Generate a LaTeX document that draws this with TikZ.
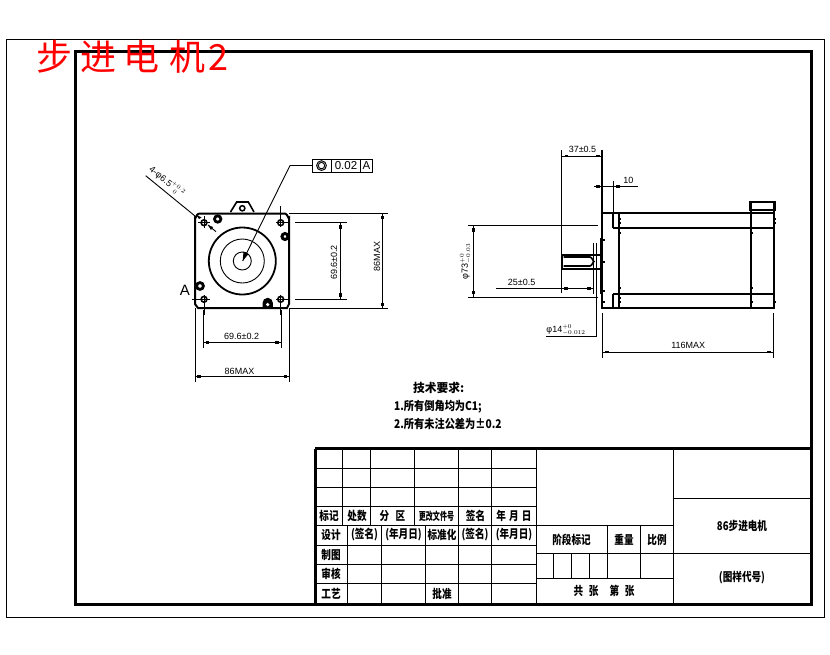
\documentclass[tikz,border=0pt]{standalone}
\usepackage{fontspec}
\setmainfont{Liberation Sans}
\newfontfamily\cjk{Noto Sans CJK SC}
\definecolor{titlered}{RGB}{255,0,0}
\tikzset{
  thinl/.style={line width=0.9pt,black},
  thickl/.style={line width=3pt,black},
  medl/.style={line width=2pt,black},
  dimtext/.style={font=\fontsize{9}{10}\selectfont,inner sep=0pt},
  cjkcell/.style={font=\cjk\bfseries\fontsize{12}{14}\selectfont,inner sep=0pt,xscale=.8},
  cjknote/.style={font=\cjk\bfseries\fontsize{12}{14}\selectfont,inner sep=0pt,xscale=.85,anchor=west},
}
\newcommand{\dm}[2]{\fill (#1-1.6,#2-1.4) rectangle (#1+1.6,#2+1.4);}
\newcommand{\dv}[2]{\fill (#1-1.4,#2-1.6) rectangle (#1+1.4,#2+1.6);}
\newcommand{\holemark}[6]{\draw[thinl] (#3,#2) -- (#4,#2) (#1,#5) -- (#1,#6);
  \draw[line width=1.6pt] (#1,#2) circle (2.9);}
\begin{document}
\begin{tikzpicture}[x=1pt,y=-1pt]
\useasboundingbox (0,0) rectangle (830,654);
\fill[white] (0,0) rectangle (830,654);
% frames
\draw[thinl] (6.5,39.5) rectangle (824,617);
\draw[thickl] (75.5,51.5) rectangle (811,604);
% title
\node[text=titlered,anchor=west,inner sep=0pt,font=\cjk\fontsize{36}{40}\selectfont] (title) at (36.5,57) {步\hspace{8pt}进\hspace{7pt}电\hspace{10pt}机\hspace{3pt}2};

% ---------- front view
\draw[medl] (199,213.5) -- (285,213.5) to[out=0,in=-90] (289,218) -- (289,304) -- (287,308) -- (198,308) -- (195,304) -- (195,218) to[out=-90,in=180] (199,213.5);
\draw[line width=1.6pt] (230.5,212) -- (236.7,202) -- (248.3,202) -- (254,212);
\draw[line width=1.5pt] (242.3,208.3) circle (2.6);
\draw[line width=1.8pt] (242.3,261) circle (33.5);
\draw[thinl] (242.3,261) circle (22);
\draw[thinl] (242.3,261) circle (9);
\holemark{204}{222.7}{198}{210}{216}{228}
\holemark{280.7}{222.7}{276}{289}{206}{227}
\holemark{204}{299.3}{192}{210}{295}{315}
\holemark{280.7}{299.3}{276}{289}{295}{315}
\draw[line width=2.8pt] (217.7,219) circle (3.2);
\draw[line width=3pt] (285,236.5) circle (3);
\draw[line width=2.8pt] (200,286) circle (3.4);
\fill (262.5,308) -- (262.5,303) arc (180:360:5.2) -- (272.9,308) -- cycle;
\fill[white] (267.7,304.5) circle (1.8);
% hole leader
\draw[thinl] (145.7,175.7) -- (195,216);
\draw[thinl] (208,225) -- (216,231.7);
\fill (199,219) -- (196,214.5) -- (201.5,217.5) -- cycle;
\fill (208,225) -- (213,227) -- (211,230) -- cycle;
\node[dimtext,rotate=-38] (holetext) at (166.5,182) {4-φ6.5$^{+0.2}_{\phantom{+}0}$};
% control frame
\draw[thinl] (312.3,159) rectangle (372.3,172.3);
\draw[thinl] (331.7,159) -- (331.7,172.3) (360.7,159) -- (360.7,172.3);
\draw[thinl] (321.5,165.6) circle (4.9) (321.5,165.6) circle (3.2);
\node[inner sep=0pt,font=\fontsize{11.5}{12}\selectfont] (tol) at (346,165.7) {0.02};
\node[inner sep=0pt,font=\fontsize{11.5}{12}\selectfont] (datum) at (366.5,165.7) {A};
\draw[thinl] (312.3,165.5) -- (290,165.5) -- (242.7,261);
\fill (242.7,261) -- (243.5,251.5) -- (248.5,254) -- cycle;
\node[inner sep=0pt,font=\fontsize{15}{16}\selectfont] (A) at (185,290) {A};
% dims right
\draw[thinl] (289,213.5) -- (388,213.5) (289,308.5) -- (388,308.5);
\draw[thinl] (382.5,213.5) -- (382.5,308.5);
\dv{382.5}{217.5}\dv{382.5}{304.5}
\node[dimtext,rotate=90] (d86r) at (377,256.5) {86MAX};
\draw[thinl] (295,222.5) -- (347,222.5) (295,299.5) -- (347,299.5);
\draw[thinl] (340.5,222.5) -- (340.5,299.5);
\dv{340.5}{227}\dv{340.5}{295}
\node[dimtext,rotate=90] (d69r) at (334,262.5) {69.6±0.2};
% dims bottom
\draw[thinl] (203.5,310) -- (203.5,348) (281,310) -- (281,348);
\draw[thinl] (203.5,342.5) -- (281,342.5);
\dm{207.5}{342.5}\dm{277}{342.5}
\node[dimtext] (d69b) at (241.7,336.5) {69.6±0.2};
\draw[thinl] (195,308) -- (195,381.5) (289.5,308) -- (289.5,381.5);
\draw[thinl] (195,376.5) -- (289.5,376.5);
\dm{199}{376.5}\dm{285.5}{376.5}
\node[dimtext] (d86b) at (239.5,371) {86MAX};

% ---------- side view
\draw[medl] (602,150) -- (602,308.5);
\draw[line width=2.6pt] (601.5,238) -- (601.5,294);
\draw[medl] (602,212.7) -- (774.5,212.7) (612.8,227.8) -- (774.5,227.8) (612.8,294) -- (774.5,294) (602,308) -- (774.5,308);
\draw[medl] (612.8,212.7) -- (612.8,227.8) (612.8,294) -- (612.8,308);
\draw[medl] (619,212.7) -- (619,308) (751,201.7) -- (751,308) (773.5,201.7) -- (773.5,308);
\draw[medl] (750,202) rectangle (774.5,210);
\foreach \px/\py in {620.5/219,620.5/223,620.5/233,620.5/288,620.5/298,620.5/302,752/233,752/288,752/302,775/219,775/223,775/302,604/240,604/262,604/291,604/302}{\fill (\px-.7,\py-1) rectangle (\px+.7,\py+1);}
% shaft
\draw[medl] (602,254.5) -- (561.5,254.5) -- (561.5,269) -- (602,269);
\draw[line width=1.6pt] (563.5,257) -- (590,257) to[out=0,in=-90] (594,261.5) to[out=90,in=0] (590,266) -- (563.5,266);
% dims side
\draw[thinl] (561.3,150) -- (561.3,254) (561.3,270) -- (561.3,293);
\draw[thinl] (561.3,156) -- (602,156);
\dm{566.5}{156}\dm{598}{156}
\node[dimtext] (d37) at (582.5,149) {37±0.5};
\draw[thinl] (594.3,186.3) -- (637.7,186.3) (613.3,181) -- (613.3,212.7);
\dm{598}{186.3}\dm{618}{186.3}
\node[dimtext] (d10) at (628.3,180.5) {10};
\draw[thinl] (468.3,225) -- (597.7,225) (468.3,297.3) -- (597.7,297.3);
\draw[thinl] (473.3,225) -- (473.3,297.3);
\dv{473.3}{230}\dv{473.3}{292.5}
\node[dimtext,rotate=90] (d73) at (465.5,261.5) {φ73$^{+0}_{-0.03}$};
\draw[thinl] (496,288.3) -- (593.3,288.3) (593.3,243) -- (593.3,294);
\dm{566}{288.3}\dm{589}{288.3}
\node[dimtext] (d25) at (521.7,282.5) {25±0.5};
\draw[thinl] (596.7,243) -- (596.7,336) -- (546,336);
\node[dimtext] (d14) at (566,330) {φ14$^{+0}_{-0.012}$};
\draw[thinl] (602.7,313.3) -- (602.7,358.3) (773.3,313.3) -- (773.3,358.3);
\draw[thinl] (602.7,352) -- (773.3,352);
\dm{607}{352}\dm{769}{352}
\node[dimtext] (d116) at (688.3,345.3) {116MAX};

% ---------- notes
\node[cjknote,xscale=1.15] (n0) at (413,387.5) {技术要求:};
\node[cjknote] (n1) at (394,406.5) {1.所有倒角均为C1;};
\node[cjknote] (n2) at (394,424) {2.所有未注公差为±0.2};

% ---------- title block
\draw[thickl] (315,448.5) -- (811,448.5) (315,448.5) -- (315,604);
\foreach \xx in {342.7,370.7,414.7,458.7,491.7}{\draw[thinl] (\xx,448.5) -- (\xx,525);}
\foreach \xx in {347.3,381.7,425.7,458.7,491.7}{\draw[thinl] (\xx,525) -- (\xx,604);}
\draw[thinl] (536,448.5) -- (536,604) (673.7,448.5) -- (673.7,604);
\foreach \yy in {468.3,487.3,506.7,545.7,564.3,583.7}{\draw[thinl] (315,\yy) -- (536,\yy);}
\draw[thinl] (315,525) -- (673.7,525);
\draw[thinl] (673.7,498.3) -- (811,498.3) (536,553.3) -- (811,553.3) (536,578.3) -- (673.7,578.3);
\draw[thinl] (607.3,525) -- (607.3,578.3) (640.3,525) -- (640.3,578.3);
\foreach \xx in {553.3,571.3,589.3}{\draw[thinl] (\xx,553.3) -- (\xx,578.3);}
\node[cjkcell] (c1) at (329,516) {标记};
\node[cjkcell] (c2) at (357,516) {处数};
\node[cjkcell] (c3) at (392.5,516) {分\hspace{8pt}区};
\node[cjkcell,xscale=.8] (c4) at (436.5,516) {\fontsize{11}{12}\selectfont 更改文件号};
\node[cjkcell] (c5) at (475.5,516) {签名};
\node[cjkcell] (c6) at (514,516) {年\hspace{4pt}月\hspace{4pt}日};
\node[cjkcell] (c7) at (331,535) {设计};
\node[cjkcell] (c8) at (364.5,535) {(签名)};
\node[cjkcell] (c9) at (403.5,535) {(年月日)};
\node[cjkcell] (c10) at (442,535) {标准化};
\node[cjkcell] (c11) at (475,535) {(签名)};
\node[cjkcell] (c12) at (514,535) {(年月日)};
\node[cjkcell] (c13) at (331,555) {制图};
\node[cjkcell] (c14) at (331,574) {审核};
\node[cjkcell] (c15) at (331,594) {工艺};
\node[cjkcell] (c16) at (442,594) {批准};
\node[cjkcell] (c17) at (571.5,540) {阶段标记};
\node[cjkcell] (c18) at (624,540) {重量};
\node[cjkcell] (c19) at (657,540) {比例};
\node[cjkcell] (c20) at (604,591) {共\hspace{7pt}张\hspace{14pt}第\hspace{7pt}张};
\node[cjkcell] (c21) at (742,526) {86步进电机};
\node[cjkcell] (c22) at (742,578) {(图样代号)};
\end{tikzpicture}
\end{document}
